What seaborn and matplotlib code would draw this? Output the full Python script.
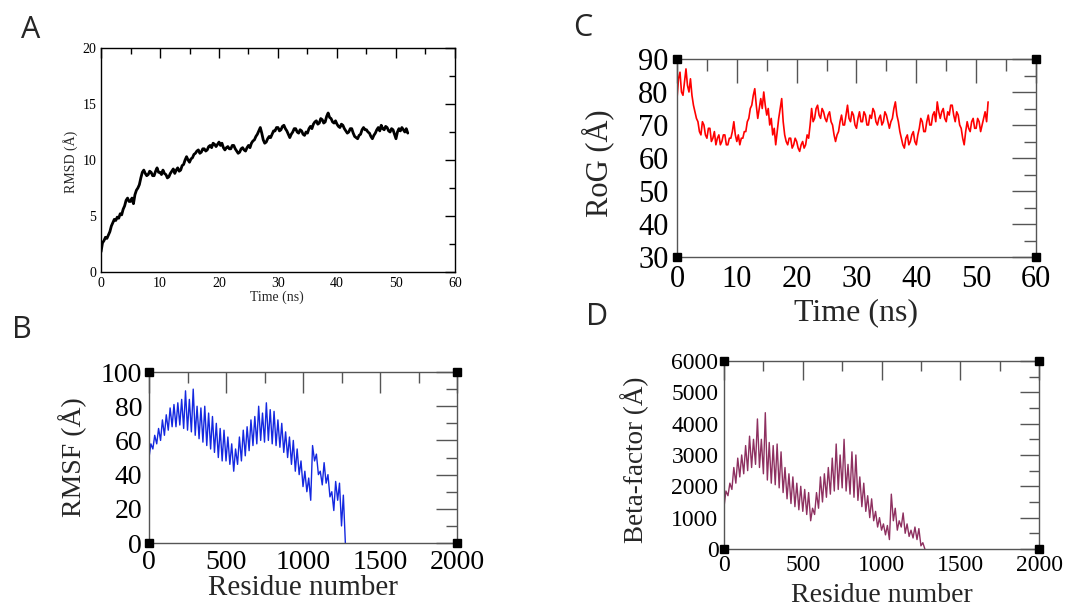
import pandas as pd
import seaborn as sns
import matplotlib.pyplot as plt
from matplotlib.ticker import MultipleLocator

# --- DATA ---
# Time axis shared by the RMSD and RoG trajectories (ns)
TIME_NS = [
    0, 0.25, 0.5, 0.75, 1, 1.25, 1.5, 1.75, 2, 2.25, 2.5, 2.75, 3, 3.25, 3.5, 3.75, 4, 4.25, 4.5, 4.75,
    5, 5.25, 5.5, 5.75, 6, 6.25, 6.5, 6.75, 7, 7.25, 7.5, 7.75, 8, 8.25, 8.5, 8.75, 9, 9.25, 9.5, 9.75,
    10, 10.25, 10.5, 10.75, 11, 11.25, 11.5, 11.75, 12, 12.25, 12.5, 12.75, 13, 13.25, 13.5, 13.75, 14, 14.25, 14.5, 14.75,
    15, 15.25, 15.5, 15.75, 16, 16.25, 16.5, 16.75, 17, 17.25, 17.5, 17.75, 18, 18.25, 18.5, 18.75, 19, 19.25, 19.5, 19.75,
    20, 20.25, 20.5, 20.75, 21, 21.25, 21.5, 21.75, 22, 22.25, 22.5, 22.75, 23, 23.25, 23.5, 23.75, 24, 24.25, 24.5, 24.75,
    25, 25.25, 25.5, 25.75, 26, 26.25, 26.5, 26.75, 27, 27.25, 27.5, 27.75, 28, 28.25, 28.5, 28.75, 29, 29.25, 29.5, 29.75,
    30, 30.25, 30.5, 30.75, 31, 31.25, 31.5, 31.75, 32, 32.25, 32.5, 32.75, 33, 33.25, 33.5, 33.75, 34, 34.25, 34.5, 34.75,
    35, 35.25, 35.5, 35.75, 36, 36.25, 36.5, 36.75, 37, 37.25, 37.5, 37.75, 38, 38.25, 38.5, 38.75, 39, 39.25, 39.5, 39.75,
    40, 40.25, 40.5, 40.75, 41, 41.25, 41.5, 41.75, 42, 42.25, 42.5, 42.75, 43, 43.25, 43.5, 43.75, 44, 44.25, 44.5, 44.75,
    45, 45.25, 45.5, 45.75, 46, 46.25, 46.5, 46.75, 47, 47.25, 47.5, 47.75, 48, 48.25, 48.5, 48.75, 49, 49.25, 49.5, 49.75,
    50, 50.25, 50.5, 50.75, 51, 51.25, 51.5, 51.75, 52,
]

# Panel A: RMSD (Å)
RMSD = [
    1.8, 2.6, 2.8, 3.1, 3.0, 3.3, 3.6, 4.1, 4.4, 4.7, 4.6, 4.9, 4.8, 5.2, 5.1, 5.6, 5.9, 6.4, 6.6, 6.3,
    6.3, 6.6, 6.1, 6.9, 7.3, 7.5, 7.8, 8.4, 8.9, 9.1, 8.8, 8.6, 8.7, 9.0, 8.9, 8.6, 8.6, 9.0, 9.3, 8.9,
    8.9, 8.7, 9.1, 8.8, 8.7, 8.4, 8.5, 8.8, 9.0, 9.2, 8.8, 9.1, 9.3, 9.0, 9.1, 9.5, 9.6, 10.0, 10.3, 10.0,
    9.8, 10.1, 10.2, 10.5, 10.6, 10.8, 10.9, 10.6, 10.7, 11.0, 11.0, 10.8, 10.9, 11.2, 11.3, 11.1, 11.5, 11.4, 11.2, 11.4,
    11.6, 11.3, 11.5, 11.1, 10.9, 11.1, 11.2, 11.0, 11.0, 11.3, 11.3, 11.0, 10.8, 10.6, 10.7, 11.0, 11.1, 10.9, 10.8, 11.1,
    11.3, 11.1, 11.5, 11.7, 11.8, 12.1, 12.3, 12.6, 12.9, 12.4, 11.8, 11.5, 11.6, 11.9, 12.1, 12.0, 12.3, 12.6, 12.6, 12.9,
    12.9, 12.6, 12.7, 13.0, 13.1, 12.8, 12.6, 12.3, 12.0, 12.3, 12.5, 12.8, 12.8, 12.5, 12.4, 12.7, 12.6, 12.3, 12.2, 12.5,
    12.4, 12.8, 13.0, 12.8, 13.2, 13.4, 13.5, 13.2, 13.3, 13.7, 13.6, 13.3, 13.4, 13.9, 14.2, 13.8, 13.7, 13.4, 13.3, 13.5,
    13.2, 13.0, 12.9, 13.2, 13.1, 12.8, 12.6, 12.4, 12.5, 12.8, 12.8, 12.4, 12.1, 12.0, 11.9, 12.2, 12.3, 12.7, 12.9, 12.7,
    12.7, 12.5, 12.4, 12.1, 11.9, 12.2, 12.4, 12.7, 12.9, 12.6, 13.1, 12.8, 12.7, 13.0, 12.9, 12.6, 12.5, 12.8, 12.7, 12.3,
    11.9, 12.5, 12.8, 12.6, 12.9, 12.7, 12.5, 12.8, 12.4,
]

# Panel C: radius of gyration (Å)
ROG = [
    78, 84, 86, 80, 79, 83, 87, 82, 80, 84, 79, 76, 74, 72, 71, 68, 67, 71, 70, 67,
    66, 69, 69, 65, 66, 68, 64, 66, 67, 64, 65, 67, 67, 64, 64, 66, 66, 68, 71, 67,
    65, 67, 64, 66, 66, 68, 68, 71, 72, 75, 76, 79, 81, 76, 72, 75, 78, 75, 80, 76,
    73, 75, 70, 72, 67, 69, 64, 68, 72, 75, 78, 71, 67, 65, 64, 66, 66, 63, 64, 66,
    65, 63, 62, 64, 65, 63, 64, 67, 66, 70, 75, 71, 72, 75, 76, 73, 72, 75, 74, 72,
    71, 73, 74, 71, 70, 67, 65, 67, 68, 71, 73, 70, 70, 73, 76, 72, 71, 74, 73, 70,
    69, 72, 74, 71, 71, 74, 73, 70, 70, 73, 72, 75, 74, 71, 70, 72, 73, 70, 71, 74,
    73, 71, 69, 71, 72, 75, 77, 73, 71, 68, 66, 64, 63, 66, 67, 64, 65, 67, 68, 65,
    64, 67, 69, 72, 71, 68, 68, 71, 73, 70, 70, 73, 74, 71, 77, 74, 72, 74, 75, 72,
    71, 74, 73, 76, 76, 73, 71, 74, 73, 70, 69, 66, 64, 68, 71, 69, 68, 71, 72, 69,
    69, 72, 71, 68, 70, 72, 74, 71, 77,
]

# Panels B and D: residue-wise profiles, troughs and peaks of the zigzag
RES_TROUGH = [
    0, 25, 50, 75, 100, 125, 150, 175, 200, 225,
    250, 275, 300, 325, 350, 375, 400, 425, 450, 475,
    500, 525, 550, 575, 600, 625, 650, 675, 700, 725,
    750, 775, 800, 825, 850, 875, 900, 925, 950, 975,
    1000, 1025, 1050, 1075, 1100, 1125, 1150, 1175, 1200, 1225,
    1250, 1275,
]
RES_PEAK = [
    12, 37, 62, 87, 112, 137, 162, 187, 212, 237,
    262, 287, 312, 337, 362, 387, 412, 437, 462, 487,
    512, 537, 562, 587, 612, 637, 662, 687, 712, 737,
    762, 787, 812, 837, 862, 887, 912, 937, 962, 987,
    1012, 1037, 1062, 1087, 1112, 1137, 1162, 1187, 1212, 1237,
    1262,
]

RMSF_TROUGH = [
    50, 55, 58, 60, 63, 66, 68, 68, 69, 67,
    66, 65, 63, 61, 59, 57, 55, 53, 50, 48,
    48, 46, 42, 46, 48, 51, 54, 57, 58, 60,
    59, 60, 58, 57, 56, 53, 50, 46, 42, 40,
    33, 30, 25, 48, 40, 34, 35, 27, 19, 25,
    10, 0,
]
RMSF_PEAK = [
    58, 63, 67, 72, 75, 79, 81, 82, 84, 89,
    84, 90, 80, 79, 80, 76, 74, 70, 67, 66,
    62, 58, 55, 62, 66, 68, 72, 74, 80, 76,
    82, 78, 77, 72, 70, 65, 62, 60, 55, 48,
    42, 38, 57, 52, 42, 47, 40, 30, 36, 35,
    28,
]

BFAC_TROUGH = [
    1350, 1700, 1900, 2100, 2300, 2400, 2500, 2600, 2700, 2600,
    2400, 2200, 2100, 2050, 1950, 1800, 1600, 1450, 1350, 1250,
    1200, 1100, 900, 1100, 1300, 1500, 1650, 1750, 1850, 1900,
    1950, 1850, 1750, 1650, 1550, 1350, 1200, 1000, 900, 700,
    600, 450, 300, 900, 600, 700, 500, 400, 350, 300,
    100, 0,
]
BFAC_PEAK = [
    1850, 2100, 2600, 2900, 3000, 3300, 3600, 3500, 4150, 3500,
    4350, 3400, 3300, 3350, 3100, 2600, 2400, 2300, 2100, 2000,
    1900, 1800, 1300, 1800, 2300, 2400, 2600, 2900, 3350, 3000,
    3500, 2700, 3100, 3000, 2300, 2100, 1700, 1600, 1200, 1000,
    800, 750, 1750, 1300, 900, 1150, 800, 600, 700, 650,
    200,
]
# ---------------------------------------------

sns.set_style("white")
plt.rcParams["font.family"] = ["Liberation Serif", "DejaVu Serif"]

fig = plt.figure(figsize=(10.69, 6.07), dpi=100)

ax_a = fig.add_axes([0.0945, 0.5519, 0.3311, 0.3690])
ax_b = fig.add_axes([0.1394, 0.1054, 0.2881, 0.2817])
ax_c = fig.add_axes([0.6333, 0.5766, 0.3358, 0.3262])
ax_d = fig.add_axes([0.6773, 0.0956, 0.2947, 0.3097])

time_df = pd.DataFrame({"time": TIME_NS, "rmsd": RMSD, "rog": ROG})
res_df = pd.DataFrame({
    "residue": RES_TROUGH + RES_PEAK,
    "rmsf": RMSF_TROUGH + RMSF_PEAK,
    "bfac": BFAC_TROUGH + BFAC_PEAK,
})

sns.lineplot(data=time_df, x="time", y="rmsd", ax=ax_a, color="black",
             linewidth=2.0, estimator=None)
sns.lineplot(data=res_df, x="residue", y="rmsf", ax=ax_b, color="#1428e0",
             linewidth=1.0, estimator=None)
sns.lineplot(data=time_df, x="time", y="rog", ax=ax_c, color="#ff0000",
             linewidth=1.2, estimator=None)
sns.lineplot(data=res_df, x="residue", y="bfac", ax=ax_d, color="#8e3060",
             linewidth=1.0, estimator=None)


def grace_axes(ax, xlim, ylim, xstep, ystep, tick_fs, xlabel_fs, ylabel_fs, major, minor,
               pad, frame_color, xlabel, ylabel, xlab_pos, ylab_pos, corners=True):
    ax.set_xlim(*xlim)
    ax.set_ylim(*ylim)
    ax.xaxis.set_major_locator(MultipleLocator(xstep))
    ax.xaxis.set_minor_locator(MultipleLocator(xstep / 2))
    ax.yaxis.set_major_locator(MultipleLocator(ystep))
    ax.yaxis.set_minor_locator(MultipleLocator(ystep / 2))
    ax.tick_params(which="both", direction="in", top=True, right=True,
                   color=frame_color, width=1.0, labelsize=tick_fs, pad=pad,
                   labelcolor="black")
    ax.tick_params(which="major", length=major)
    ax.tick_params(which="minor", length=minor)
    for s in ax.spines.values():
        s.set_visible(True)
        s.set_color(frame_color)
        s.set_linewidth(1.0)
    ax.set_xlabel(xlabel, fontsize=xlabel_fs)
    ax.set_ylabel(ylabel, fontsize=ylabel_fs)
    ax.xaxis.label.set_va("center")
    ax.yaxis.label.set_va("center")
    ax.xaxis.set_label_coords(*xlab_pos)
    ax.yaxis.set_label_coords(*ylab_pos)
    if corners:
        ax.plot([0, 1, 0, 1], [0, 0, 1, 1], "s", color="black", markersize=6,
                transform=ax.transAxes, clip_on=False, zorder=5)


grace_axes(ax_a, (0, 60), (0, 20), 10, 5, 10, 10, 10, 7, 4.3, 3.5, "black",
           "Time (ns)", "RMSD (Å)", (0.497, -0.112), (-0.085, 0.491), corners=False)
grace_axes(ax_b, (0, 2000), (0, 100), 500, 20, 20, 21, 20, 15, 8, 5, "#555555",
           "Residue number", "RMSF (Å)", (0.5, -0.263), (-0.247, 0.503))
grace_axes(ax_c, (0, 60), (30, 90), 10, 10, 22, 23, 22, 17, 8.5, 6, "#555555",
           "Time (ns)", "RoG (Å)", (0.5, -0.283), (-0.220, 0.475))
grace_axes(ax_d, (0, 2000), (0, 6000), 500, 1000, 17, 20, 19.5, 14, 7.5, 4, "#555555",
           "Residue number", "Beta-factor (Å)", (0.5, -0.245), (-0.283, 0.473))

# Panel letters
for letter, (px, py) in {"A": (31, 30), "B": (22, 330), "C": (583, 28), "D": (597, 317)}.items():
    fig.text(px / 1069, 1 - py / 607, letter, fontsize=22, family="Open Sans",
             ha="center", va="center")

fig.savefig("out.png", dpi=100)
